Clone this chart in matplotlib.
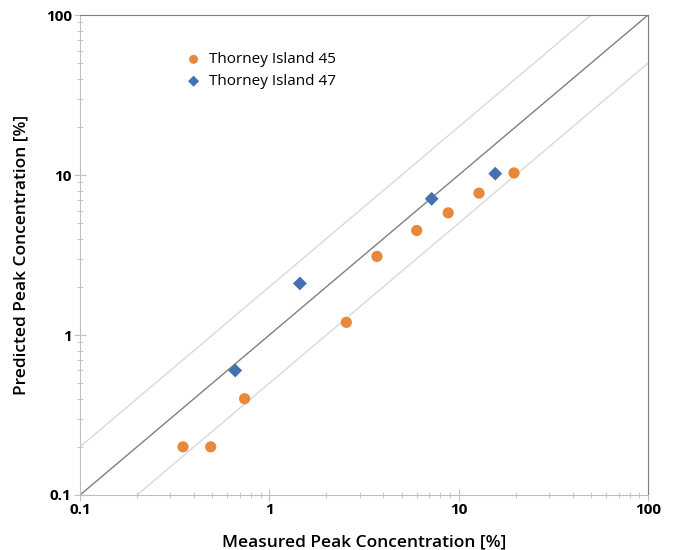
import numpy as np
import matplotlib.pyplot as plt
from matplotlib.ticker import LogLocator, FixedLocator, FixedFormatter, NullFormatter

plt.rcParams['font.family'] = ['Open Sans', 'DejaVu Sans']

# measured vs predicted peak concentrations [%]
ti45_measured = [0.35, 0.49, 0.74, 2.55, 3.7, 6.0, 8.8, 12.8, 19.6]
ti45_predicted = [0.2, 0.2, 0.4, 1.2, 3.1, 4.5, 5.8, 7.7, 10.3]
ti47_measured = [0.66, 1.45, 7.2, 15.6]
ti47_predicted = [0.6, 2.1, 7.1, 10.2]

ticks = [0.1, 1, 10, 100]
tick_labels = ['0.1', '1', '10', '100']

fig = plt.figure(figsize=(6.73, 5.5), dpi=100)
ax = fig.add_axes([0.1189, 0.1, 0.844, 0.8727])

# 1:1 line and factor-of-two bounds
xs = np.array([0.01, 1000])
ax.plot(xs, xs, color='#7f7f7f', lw=1.0, zorder=1)
ax.plot(xs, 2 * xs, color='#d9d9d9', lw=1.0, zorder=1)
ax.plot(xs, 0.5 * xs, color='#d9d9d9', lw=1.0, zorder=1)

ax.scatter(ti45_measured, ti45_predicted, s=65, marker='o', color='#E8883A',
           edgecolors='none', label='Thorney Island 45', zorder=3)
ax.scatter(ti47_measured, ti47_predicted, s=50, marker='D', color='#4472B0',
           edgecolors='none', label='Thorney Island 47', zorder=3)

ax.set_xscale('log')
ax.set_yscale('log')
ax.set_xlim(0.1, 100)
ax.set_ylim(0.1, 100)

for axis in (ax.xaxis, ax.yaxis):
    axis.set_major_locator(FixedLocator(ticks))
    axis.set_major_formatter(FixedFormatter(tick_labels))
    axis.set_minor_locator(LogLocator(base=10, subs=np.arange(2, 10)))
    axis.set_minor_formatter(NullFormatter())

ax.tick_params(which='major', direction='inout', length=8, color='#bfbfbf',
               labelsize=11, pad=2)
ax.tick_params(which='minor', direction='inout', length=5, color='#bfbfbf')
for lbl in ax.get_xticklabels() + ax.get_yticklabels():
    lbl.set_fontweight('bold')

ax.spines['left'].set_color('#bfbfbf')
ax.spines['bottom'].set_color('#bfbfbf')
ax.spines['top'].set_color('#7f7f7f')
ax.spines['right'].set_color('#7f7f7f')

ax.set_xlabel('Measured Peak Concentration [%]', fontsize=12.5,
              fontweight='semibold', labelpad=12)
ax.set_ylabel('Predicted Peak Concentration [%]', fontsize=12.5,
              fontweight='semibold', labelpad=12)

ax.legend(loc='upper left', bbox_to_anchor=(0.173, 0.935), frameon=False,
          fontsize=11, handletextpad=0.4, labelspacing=0.45,
          borderaxespad=0, handlelength=1.2, markerscale=0.8)

fig.savefig('out.png', dpi=100)
